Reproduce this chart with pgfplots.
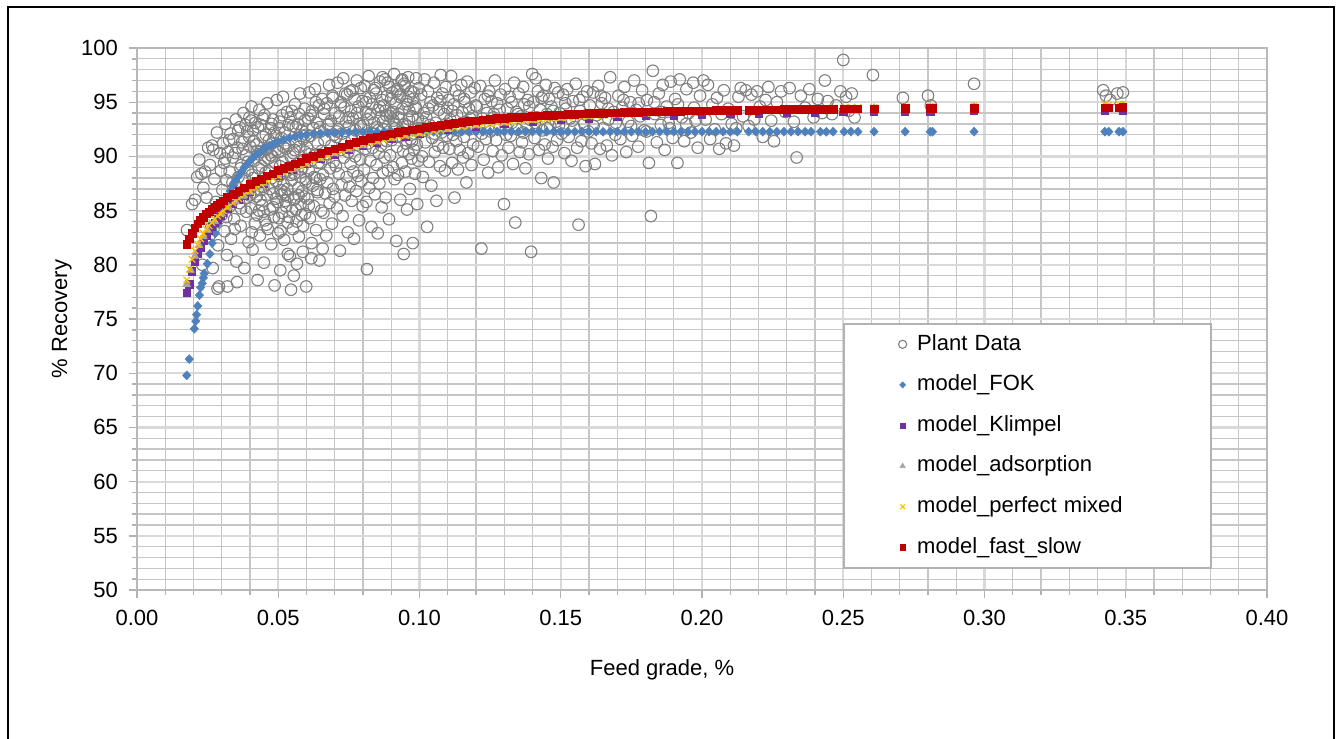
\documentclass[border=0pt]{standalone}
\usepackage{fontspec}
\setmainfont{Liberation Sans}
\usepackage{pgfplots}
\pgfplotsset{compat=1.18}
\definecolor{plantc}{RGB}{128,128,128}
\definecolor{fokc}{RGB}{79,129,189}
\definecolor{klimc}{RGB}{112,48,160}
\definecolor{adsc}{RGB}{165,165,165}
\definecolor{pmc}{RGB}{255,192,0}
\definecolor{fsc}{RGB}{192,0,0}
\definecolor{gridmaj}{RGB}{217,217,217}
\definecolor{gridmin}{RGB}{198,198,198}
\begin{document}
\begin{tikzpicture}[x=1pt,y=1pt]
\useasboundingbox (-68.5,-74) rectangle (599.5,295);
\draw[line width=1.1pt] (-64.5,-80) -- (-64.5,291.5) -- (598.5,291.5) -- (598.5,-80);
\begin{axis}[
 at={(0,0)}, anchor=south west,
 scale only axis, width=565pt, height=271pt,
 xmin=0, xmax=0.4, ymin=50, ymax=100,
 xtick={0,0.05,0.1,0.15,0.2,0.25,0.3,0.35,0.4},
 ytick={50,55,60,65,70,75,80,85,90,95,100},
 minor x tick num=4, minor y tick num=4,
 grid=both,
 major grid style={draw=gridmaj, line width=1.1pt},
 minor grid style={draw=gridmin, line width=0.65pt},
 xminorticks=false,
 tick align=outside, tick pos=left,
 major tick length=4pt, minor tick length=2.5pt,
 tick style={draw=black!30, line width=0.7pt},
 axis line style={draw=black!28, line width=0.8pt},
 font=\fontsize{11}{13}\selectfont,
 ticklabel style={font=\fontsize{11}{13}\selectfont},
 /pgf/number format/assume math mode=true,
 xticklabel style={/pgf/number format/fixed, /pgf/number format/fixed zerofill, /pgf/number format/precision=2, yshift=-2.5pt},
 yticklabel style={xshift=-2pt},
 xlabel={Feed grade, \%}, ylabel={\% Recovery},
 every axis x label/.style={at={(axis description cs:0.4646,-0.1476)}, anchor=center},
 every axis y label/.style={at={(axis description cs:-0.0665,0.5)}, rotate=90, anchor=center},
 legend style={at={(rel axis cs:0.6248,0.4926)}, anchor=north west, draw=black!30, line width=1pt, fill=white, inner xsep=0pt, inner ysep=0pt, font=\fontsize{11}{13}\selectfont,
   nodes={text width=143pt, inner xsep=4pt, inner ysep=0pt, text height=8pt, text depth=2.3pt, minimum height=20.3pt}},
 legend cell align=left,
 legend image code/.code={\path (-29pt,0pt) (3pt,0pt); \draw[#1] plot coordinates {(0pt,0pt)};},
 legend image post style={every mark/.append style={scale=0.7}},
]
% Plant data
\addplot[only marks, mark=o, mark size=2.9pt, draw=plantc, line width=0.55pt] coordinates {
(0.0177,83.2)(0.0195,85.6)(0.0205,86.0)(0.0213,88.1)(0.0220,89.7)(0.0228,88.4)(0.0235,87.1)(0.0241,88.6)(0.0246,86.2)(0.0252,90.8)
(0.0258,89.2)(0.0262,83.4)(0.0266,91.0)(0.0270,90.6)(0.0274,87.9)(0.0279,85.8)(0.0283,92.2)(0.0287,81.8)(0.0290,78.0)(0.0294,90.3)
(0.0297,88.7)(0.0300,84.6)(0.0231,80.0)(0.0255,82.6)(0.0268,79.7)(0.0285,77.8)
(0.0302,86.9)(0.0305,91.2)(0.0308,89.4)(0.0310,83.1)(0.0313,93.0)(0.0316,87.8)(0.0318,80.9)(0.0320,78.0)(0.0322,90.4)(0.0325,85.3)
(0.0328,88.6)(0.0331,92.1)(0.0333,82.4)(0.0336,86.1)(0.0339,89.9)(0.0341,91.6)(0.0344,84.2)(0.0347,87.3)(0.0350,93.4)(0.0352,80.3)
(0.0354,78.4)(0.0356,90.8)(0.0359,88.1)(0.0362,85.7)(0.0364,92.7)(0.0367,83.6)(0.0369,89.2)(0.0372,91.3)(0.0375,86.8)(0.0377,94.0)
(0.0380,79.7)(0.0382,87.9)(0.0385,90.1)(0.0387,84.9)(0.0390,92.3)(0.0393,88.7)(0.0395,82.1)(0.0398,93.6)(0.0399,86.4)
(0.0401,90.9)(0.0403,85.2)(0.0405,94.6)(0.0407,88.3)(0.0409,81.4)(0.0411,92.4)(0.0413,86.7)(0.0415,89.6)(0.0417,83.8)(0.0419,93.1)
(0.0421,87.5)(0.0423,91.1)(0.0425,84.6)(0.0427,78.6)(0.0429,90.2)(0.0431,88.9)(0.0433,94.3)(0.0435,82.7)(0.0437,86.0)(0.0439,92.9)
(0.0441,89.1)(0.0443,85.5)(0.0445,91.8)(0.0447,87.2)(0.0449,80.2)(0.0451,93.8)(0.0453,84.1)(0.0455,88.5)(0.0457,90.6)(0.0459,86.4)
(0.0461,94.9)(0.0463,83.3)(0.0465,89.8)(0.0467,91.5)(0.0469,87.0)(0.0471,85.1)(0.0473,92.6)(0.0475,81.9)(0.0477,88.0)(0.0479,90.0)
(0.0481,93.4)(0.0483,86.6)(0.0485,84.4)(0.0487,78.1)(0.0489,89.4)(0.0491,91.9)(0.0493,87.7)(0.0495,95.2)(0.0497,85.8)(0.0499,82.9)
(0.0501,90.4)(0.0503,88.2)(0.0505,93.2)(0.0507,79.5)(0.0509,86.9)(0.0511,91.7)(0.0513,84.8)(0.0515,89.5)(0.0517,95.5)(0.0519,87.4)
(0.0521,82.3)(0.0523,92.2)(0.0525,85.9)(0.0527,90.7)(0.0529,88.6)(0.0531,94.1)(0.0533,83.9)(0.0535,86.3)(0.0537,91.0)(0.0539,89.0)
(0.0541,80.8)(0.0543,93.6)(0.0545,77.7)(0.0547,87.8)(0.0549,85.0)(0.0551,92.8)(0.0553,90.3)(0.0555,79.0)(0.0557,88.4)(0.0559,94.8)
(0.0561,86.2)(0.0563,91.4)(0.0565,84.0)(0.0567,89.3)(0.0569,93.0)(0.0571,87.1)(0.0573,82.6)(0.0575,90.9)(0.0577,95.8)(0.0579,85.6)
(0.0581,88.8)(0.0583,92.4)(0.0585,86.8)(0.0587,81.2)(0.0589,91.6)(0.0591,89.7)(0.0593,94.4)(0.0595,84.7)(0.0597,87.6)(0.0599,78.0)
(0.0600,92.0)(0.0552,83.3)(0.0534,81.0)(0.0566,80.1)(0.0588,83.6)(0.0512,86.5)(0.0544,90.0)
(0.0602,90.8)(0.0604,86.1)(0.0606,93.5)(0.0608,88.7)(0.0610,95.9)(0.0612,84.3)(0.0614,91.9)(0.0616,89.6)(0.0618,82.0)(0.0620,94.2)
(0.0622,87.3)(0.0624,92.6)(0.0626,85.4)(0.0628,90.1)(0.0630,96.2)(0.0632,88.0)(0.0634,83.2)(0.0636,93.1)(0.0638,86.9)(0.0640,91.2)
(0.0642,89.4)(0.0644,94.7)(0.0646,80.4)(0.0648,87.9)(0.0650,92.3)(0.0652,85.0)(0.0654,90.5)(0.0656,95.3)(0.0658,88.3)(0.0660,84.8)
(0.0662,93.9)(0.0664,91.5)(0.0666,86.6)(0.0668,89.8)(0.0670,82.7)(0.0672,94.9)(0.0674,87.6)(0.0676,92.9)(0.0678,90.2)(0.0680,96.6)
(0.0682,85.7)(0.0684,88.9)(0.0686,93.3)(0.0688,91.0)(0.0690,83.8)(0.0692,95.6)(0.0694,87.0)(0.0696,89.5)(0.0698,92.0)(0.0699,86.3)
(0.0617,80.6)(0.0657,81.5)
(0.0702,94.0)(0.0704,89.1)(0.0706,91.8)(0.0708,85.2)(0.0710,96.8)(0.0712,92.5)(0.0714,88.4)(0.0716,93.7)(0.0718,81.3)(0.0720,90.6)
(0.0722,95.0)(0.0724,87.4)(0.0726,92.1)(0.0728,84.5)(0.0730,97.2)(0.0732,89.9)(0.0734,94.5)(0.0736,86.4)(0.0738,91.3)(0.0740,93.2)
(0.0742,88.1)(0.0744,95.7)(0.0746,83.0)(0.0748,90.4)(0.0750,92.8)(0.0752,87.2)(0.0754,96.0)(0.0756,89.3)(0.0758,94.2)(0.0760,85.9)
(0.0762,91.6)(0.0764,93.5)(0.0766,88.6)(0.0768,82.4)(0.0770,95.3)(0.0772,90.0)(0.0774,92.4)(0.0776,86.8)(0.0778,97.0)(0.0780,91.1)
(0.0782,88.2)(0.0784,94.6)(0.0786,84.1)(0.0788,93.0)(0.0790,89.7)(0.0792,96.3)(0.0794,87.7)(0.0796,91.9)(0.0798,95.1)(0.0799,85.4)
(0.0802,92.9)(0.0804,88.8)(0.0806,96.5)(0.0808,90.7)(0.0810,94.1)(0.0812,85.8)(0.0814,79.6)(0.0816,93.4)(0.0818,91.2)(0.0820,97.4)
(0.0822,87.1)(0.0824,95.4)(0.0826,89.6)(0.0828,92.2)(0.0830,83.5)(0.0832,94.8)(0.0834,90.8)(0.0836,88.0)(0.0838,96.1)(0.0840,93.1)
(0.0842,86.5)(0.0844,91.7)(0.0846,95.8)(0.0848,89.2)(0.0850,92.7)(0.0852,82.9)(0.0854,94.3)(0.0856,90.3)(0.0858,87.5)(0.0860,96.9)
(0.0862,93.6)(0.0864,91.0)(0.0866,85.3)(0.0868,95.2)(0.0870,88.5)(0.0872,92.5)(0.0874,94.7)(0.0876,89.9)(0.0878,97.1)(0.0880,86.2)
(0.0882,93.8)(0.0884,91.4)(0.0886,95.6)(0.0888,88.7)(0.0890,92.0)(0.0892,84.2)(0.0894,96.4)(0.0896,90.1)(0.0898,94.0)
(0.0902,91.5)(0.0904,95.9)(0.0906,89.0)(0.0908,93.3)(0.0910,97.6)(0.0912,87.9)(0.0914,92.6)(0.0916,94.9)(0.0918,82.2)(0.0920,90.9)
(0.0922,96.2)(0.0924,88.3)(0.0926,93.9)(0.0928,91.8)(0.0930,95.5)(0.0932,86.0)(0.0934,92.3)(0.0936,97.0)(0.0938,89.4)(0.0940,94.4)
(0.0942,90.5)(0.0944,81.0)(0.0946,96.7)(0.0948,93.0)(0.0950,88.6)(0.0952,91.2)(0.0954,95.1)(0.0956,85.1)(0.0958,92.8)(0.0960,97.3)
(0.0962,90.2)(0.0964,94.2)(0.0966,87.0)(0.0968,91.6)(0.0970,96.0)(0.0972,89.8)(0.0974,93.7)(0.0976,82.0)(0.0978,95.3)(0.0980,90.6)
(0.0982,92.1)(0.0984,88.4)(0.0986,94.6)(0.0988,97.2)(0.0990,91.1)(0.0992,85.6)(0.0994,93.5)(0.0996,89.6)(0.0998,96.3)
(0.0811,95.0)(0.0827,93.9)(0.0843,96.3)(0.0859,94.6)(0.0871,93.2)(0.0887,96.8)(0.0899,95.3)(0.0907,94.1)(0.0919,96.0)(0.0925,93.6)
(0.0933,95.7)(0.0941,92.9)(0.0949,96.5)(0.0957,94.8)(0.0963,93.4)(0.0979,95.9)(0.0987,94.4)(0.0995,92.6)(0.0853,92.4)(0.0879,94.2)
(0.0915,93.0)(0.0939,97.1)(0.0961,95.5)(0.0973,91.4)(0.0869,97.3)(0.0895,93.7)
(0.0412,88.0)(0.0426,90.5)(0.0438,86.9)(0.0452,89.7)(0.0466,88.6)(0.0478,91.2)(0.0492,86.1)(0.0506,89.1)(0.0518,90.9)(0.0532,87.0)
(0.0546,88.3)(0.0558,90.6)(0.0572,86.4)(0.0586,89.0)(0.0598,87.9)(0.0611,90.2)(0.0627,88.1)(0.0639,86.7)(0.0651,89.4)(0.0424,86.3)
(0.0448,84.9)(0.0474,90.1)(0.0502,84.3)(0.0528,85.4)(0.0556,86.0)(0.0582,84.6)(0.0608,85.5)
(0.0615,93.8)(0.0633,95.0)(0.0647,92.7)(0.0663,94.4)(0.0679,93.0)(0.0693,95.4)(0.0707,92.3)(0.0721,94.7)(0.0737,95.8)(0.0749,93.6)
(0.0763,96.1)(0.0779,94.0)(0.0793,92.8)
(0.0312,89.8)(0.0326,91.5)(0.0338,87.6)(0.0348,90.3)(0.0358,92.4)(0.0366,88.9)(0.0374,90.7)(0.0384,92.9)(0.0392,89.5)(0.0397,91.8)
(0.0404,93.3)(0.0414,91.4)(0.0428,92.7)(0.0436,90.4)(0.0446,93.5)(0.0456,92.0)(0.0464,90.8)(0.0476,93.0)(0.0486,92.2)(0.0494,90.6)
(0.0504,92.6)(0.0514,93.8)(0.0524,91.2)(0.0536,92.9)(0.0548,94.2)(0.0562,92.7)(0.0574,93.9)(0.0584,91.9)(0.0594,93.3)(0.0596,90.4)
(0.0316,84.4)(0.0334,85.9)(0.0346,83.3)(0.0368,85.2)(0.0388,86.2)(0.0406,83.0)(0.0432,85.0)(0.0458,83.7)(0.0482,85.3)(0.0508,83.1)
(0.0522,86.7)(0.0538,84.4)(0.0562,85.1)(0.0578,88.1)(0.0592,86.3)
(0.1003,92.4)(0.1006,95.7)(0.1009,90.0)(0.1012,88.1)(0.1015,94.0)(0.1018,97.1)(0.1021,91.3)(0.1024,93.6)(0.1027,83.5)(0.1030,96.0)
(0.1033,89.5)(0.1036,92.9)(0.1039,95.0)(0.1042,87.3)(0.1045,91.7)(0.1048,94.7)(0.1051,96.8)(0.1054,90.4)(0.1057,93.1)(0.1060,85.9)
(0.1063,95.4)(0.1066,91.0)(0.1069,94.3)(0.1072,89.1)(0.1075,97.5)(0.1078,92.2)(0.1081,95.8)(0.1084,90.8)(0.1087,93.9)(0.1090,88.7)
(0.1093,96.4)(0.1096,91.9)(0.1099,94.5)
(0.1103,95.2)(0.1106,90.7)(0.1109,93.4)(0.1112,97.4)(0.1115,89.4)(0.1118,92.0)(0.1121,94.8)(0.1124,86.2)(0.1127,96.1)(0.1130,91.4)
(0.1133,93.8)(0.1136,88.8)(0.1139,95.6)(0.1142,90.6)(0.1145,92.7)(0.1148,96.6)(0.1151,94.1)(0.1154,89.9)(0.1157,91.8)(0.1160,95.0)
(0.1163,93.2)(0.1166,87.6)(0.1169,96.9)(0.1172,90.3)(0.1175,94.4)(0.1178,92.5)(0.1181,95.9)(0.1184,89.2)(0.1187,93.7)(0.1190,91.1)
(0.1195,96.3)
(0.1203,94.6)(0.1207,90.9)(0.1211,92.8)(0.1215,96.5)(0.1219,81.5)(0.1223,93.5)(0.1227,89.7)(0.1231,95.3)(0.1235,91.6)(0.1239,94.0)
(0.1243,88.5)(0.1247,96.0)(0.1251,92.3)(0.1255,95.1)(0.1259,90.5)(0.1263,93.9)(0.1267,97.0)(0.1271,91.5)(0.1275,94.9)(0.1279,89.0)
(0.1283,92.6)(0.1287,95.7)(0.1291,90.1)(0.1295,93.3)(0.1299,85.6)
(0.1303,96.2)(0.1307,92.0)(0.1311,94.4)(0.1315,90.8)(0.1319,95.5)(0.1323,91.9)(0.1327,93.1)(0.1331,89.3)(0.1335,96.8)(0.1339,83.9)
(0.1343,94.1)(0.1347,92.5)(0.1351,95.8)(0.1355,90.4)(0.1359,93.7)(0.1363,91.3)(0.1367,96.4)(0.1371,94.8)(0.1375,88.9)(0.1379,92.9)
(0.1383,95.2)(0.1387,90.2)(0.1391,93.4)(0.1395,81.2)(0.1399,97.6)
(0.1403,95.0)(0.1407,91.7)(0.1411,97.2)(0.1415,93.6)(0.1419,96.0)(0.1423,90.6)(0.1427,94.3)(0.1431,88.0)(0.1435,92.4)(0.1439,95.6)
(0.1443,91.1)(0.1447,96.6)(0.1451,93.9)(0.1455,89.8)(0.1459,95.3)(0.1463,92.8)(0.1467,94.6)(0.1471,90.9)(0.1475,87.6)(0.1479,96.3)
(0.1483,93.2)(0.1487,91.5)(0.1491,95.9)(0.1495,94.0)
(0.1503,92.1)(0.1508,95.7)(0.1513,90.3)(0.1518,94.4)(0.1523,96.2)(0.1528,91.8)(0.1533,93.5)(0.1538,89.6)(0.1543,95.1)(0.1548,92.7)
(0.1553,96.7)(0.1558,90.8)(0.1563,83.7)(0.1568,94.2)(0.1573,91.4)(0.1578,95.5)(0.1583,93.0)(0.1588,89.1)(0.1593,96.0)(0.1598,92.3)
(0.1603,94.7)(0.1609,91.2)(0.1615,95.9)(0.1621,89.3)(0.1627,93.8)(0.1633,96.5)(0.1639,90.7)(0.1645,94.9)(0.1651,92.6)(0.1657,95.4)
(0.1663,91.0)(0.1669,93.4)(0.1675,97.3)(0.1681,90.1)(0.1687,94.1)(0.1693,92.0)
(0.1704,95.6)(0.1711,91.6)(0.1718,94.5)(0.1725,96.4)(0.1732,90.4)(0.1739,93.2)(0.1746,95.0)(0.1753,91.9)(0.1760,97.0)(0.1767,94.3)
(0.1774,90.9)(0.1781,93.7)(0.1788,96.1)(0.1795,92.4)
(0.1805,95.2)(0.1812,89.4)(0.1819,84.5)(0.1826,97.9)(0.1833,93.9)(0.1840,91.3)(0.1847,95.8)(0.1854,92.9)(0.1861,96.6)(0.1868,90.6)
(0.1875,94.6)(0.1882,93.1)(0.1889,96.9)(0.1896,91.7)
(0.1905,95.3)(0.1913,89.4)(0.1921,97.1)(0.1929,93.6)(0.1937,91.4)(0.1945,96.2)(0.1953,94.0)(0.1961,92.2)(0.1969,96.8)(0.1977,93.3)
(0.1985,90.8)(0.1993,95.6)
(0.1011,93.2)(0.1032,94.4)(0.1053,92.1)(0.1074,95.1)(0.1095,93.0)(0.1116,94.2)(0.1137,92.4)(0.1158,95.3)(0.1179,93.5)(0.1199,94.7)
(0.1221,92.1)(0.1242,95.6)(0.1262,93.6)(0.1284,94.3)(0.1305,92.7)(0.1326,95.0)(0.1349,93.9)(0.1368,92.2)(0.1389,94.6)(0.1409,93.1)
(0.1432,95.4)(0.1452,92.6)(0.1473,94.2)(0.1494,92.9)(0.1516,94.9)(0.1541,93.3)(0.1566,95.2)(0.1591,93.8)(0.1616,92.8)(0.1642,95.6)
(0.1668,94.4)(0.1695,93.1)(0.1722,95.2)(0.1749,92.8)(0.1776,94.9)(0.1803,92.3)(0.1831,95.0)(0.1858,94.1)(0.1886,92.6)(0.1915,94.8)
(0.1944,93.0)(0.1972,94.5)
(0.2005,97.0)(0.2013,93.4)(0.2021,96.6)(0.2029,91.6)(0.2037,94.8)(0.2045,92.5)(0.2053,95.4)(0.2061,90.7)(0.2069,93.9)(0.2077,96.1)
(0.2085,91.2)(0.2093,94.4)
(0.2105,93.0)(0.2113,91.0)(0.2121,92.6)(0.2129,95.5)(0.2137,96.3)(0.2145,93.7)(0.2155,96.1)(0.2165,92.8)(0.2175,95.7)(0.2185,93.4)
(0.2195,96.0)(0.2205,94.6)(0.2215,91.8)(0.2225,95.2)(0.2235,96.4)(0.2245,93.3)(0.2255,91.4)(0.2265,95.0)(0.2280,96.0)(0.2295,94.1)
(0.2310,96.3)(0.2325,93.2)(0.2335,89.9)(0.2350,95.6)(0.2365,94.5)(0.2380,96.2)(0.2395,93.6)(0.2410,95.3)(0.2425,94.0)(0.2435,97.0)
(0.2445,95.1)(0.2460,93.9)(0.2475,94.7)(0.2490,96.0)(0.2500,98.9)(0.2510,95.5)(0.2520,94.2)(0.2530,95.8)(0.2540,93.6)(0.2605,97.5)
(0.2711,95.4)(0.2800,95.6)(0.2810,94.7)(0.2963,96.7)(0.3420,96.1)(0.3430,95.6)(0.3445,95.2)(0.3470,95.8)(0.3490,95.9)
};
\addlegendentry{Plant Data}
% model FOK
\addplot[only marks, mark=diamond*, mark size=2.2pt, color=fokc, line width=0.3pt, mark options={xscale=1.25}] coordinates {
(0.0176,69.8)(0.0185,71.3)(0.0203,74.1)(0.0208,74.8)(0.0211,75.4)(0.0215,76.2)(0.0221,77.2)(0.0225,77.9)(0.0231,78.3)(0.0235,78.8)
(0.0238,79.2)(0.0249,80.1)(0.0258,81.0)(0.0266,82.0)(0.0277,82.9)(0.0288,83.8)(0.0298,84.6)(0.0308,85.3)(0.0320,86.2)(0.0330,86.8)
(0.0340,87.3)(0.0350,87.8)(0.0360,88.2)(0.0370,88.6)(0.0380,89.0)(0.0390,89.3)(0.0400,89.6)(0.0410,89.85)(0.0420,90.1)(0.0430,90.3)
(0.0440,90.5)(0.0450,90.7)(0.0460,90.85)(0.0470,91.0)(0.0480,91.1)(0.0490,91.25)(0.0500,91.35)(0.0520,91.55)(0.0540,91.7)(0.0560,91.82)
(0.0580,91.92)(0.0600,92.0)(0.0625,92.07)(0.0650,92.12)(0.0675,92.16)(0.0700,92.19)(0.0725,92.21)(0.0750,92.23)(0.0775,92.24)(0.0800,92.25)
(0.0825,92.26)(0.0850,92.26)(0.0875,92.27)(0.0900,92.27)(0.0925,92.27)(0.0950,92.28)(0.0975,92.27)(0.1000,92.28)(0.1025,92.28)(0.1050,92.27)
(0.1075,92.28)(0.1100,92.28)(0.1125,92.29)(0.1150,92.28)(0.1175,92.28)(0.1200,92.27)(0.1225,92.28)(0.1250,92.28)(0.1275,92.29)(0.1300,92.28)
(0.1325,92.28)(0.1350,92.27)(0.1375,92.28)(0.1400,92.28)(0.1425,92.29)(0.1450,92.28)(0.1475,92.28)(0.1500,92.27)(0.1525,92.28)(0.1550,92.28)
(0.1575,92.29)(0.1600,92.28)(0.1625,92.28)(0.1650,92.27)(0.1675,92.28)(0.1700,92.28)(0.1725,92.29)(0.1750,92.28)(0.1775,92.28)(0.1800,92.27)
(0.1825,92.28)(0.1850,92.28)(0.1875,92.29)(0.1900,92.28)(0.1925,92.28)(0.1950,92.27)(0.1975,92.28)(0.2000,92.28)(0.2025,92.29)(0.2050,92.28)
(0.2075,92.28)(0.2100,92.27)(0.2125,92.28)(0.2165,92.28)(0.2190,92.29)(0.2215,92.28)(0.2240,92.28)(0.2265,92.27)(0.2290,92.28)(0.2315,92.28)
(0.2340,92.29)(0.2365,92.28)(0.2386,92.28)(0.2419,92.28)(0.2440,92.27)(0.2464,92.28)(0.2503,92.28)(0.2527,92.29)(0.2552,92.28)(0.2609,92.28)
(0.2719,92.28)(0.2808,92.28)(0.2816,92.28)(0.2963,92.28)(0.3426,92.28)(0.3440,92.28)(0.3476,92.28)(0.3490,92.28)
};
\addlegendentry{model\_FOK}
% model Klimpel
\addplot[only marks, mark=square*, mark size=1.8pt, color=klimc, line width=0.3pt] coordinates {
(0.0176,77.4)(0.0185,78.2)(0.0195,79.4)(0.0205,80.3)(0.0215,81.0)(0.0225,81.6)(0.0235,82.2)(0.0245,82.7)(0.0255,83.1)(0.0265,83.5)
(0.0275,83.9)(0.0285,84.2)(0.0295,84.5)(0.0305,84.8)(0.0320,85.2)(0.0340,85.6)(0.0360,86.0)(0.0380,86.4)(0.0400,86.7)(0.0450,87.5)
(0.0500,88.2)(0.0550,88.8)(0.0600,89.3)(0.0650,89.8)(0.0700,90.2)(0.0750,90.6)(0.0800,91.0)(0.0850,91.3)(0.0900,91.6)(0.0950,91.85)
(0.1000,92.05)(0.1100,92.45)(0.1200,92.75)(0.1300,93.0)(0.1400,93.2)(0.1500,93.37)(0.1600,93.5)(0.1700,93.62)(0.1800,93.72)(0.1900,93.8)
(0.2000,93.87)(0.2100,93.93)(0.2200,93.98)(0.2300,94.02)(0.2400,94.06)(0.2500,94.09)(0.2609,94.12)(0.2719,94.14)(0.2808,94.16)(0.2963,94.19)
(0.3426,94.25)(0.3490,94.26)
};
\addlegendentry{model\_Klimpel}
% model adsorption
\addplot[only marks, mark=triangle*, mark size=2.2pt, color=adsc, line width=0.3pt] coordinates {
(0.0176,78.2)(0.0190,79.5)(0.0205,80.8)(0.0220,81.8)(0.0235,82.6)(0.0250,83.2)(0.0275,84.0)(0.0300,84.7)(0.0325,85.3)(0.0350,85.8)
(0.0375,86.3)(0.0400,86.7)(0.0450,87.5)(0.0500,88.2)(0.0550,88.8)(0.0600,89.3)(0.0650,89.8)(0.0700,90.25)(0.0750,90.65)(0.0800,91.0)
(0.0850,91.35)(0.0900,91.65)(0.0950,91.9)(0.1000,92.1)(0.1100,92.5)(0.1200,92.85)(0.1300,93.1)(0.1400,93.33)(0.1500,93.52)(0.1600,93.68)
(0.1700,93.82)(0.1800,93.94)(0.1900,94.04)(0.2000,94.13)(0.2100,94.2)(0.2200,94.27)(0.2300,94.33)(0.2400,94.38)(0.2500,94.43)(0.2609,94.47)
(0.2719,94.51)(0.2808,94.54)(0.2963,94.59)(0.3426,94.7)(0.3490,94.72)
};
\addlegendentry{model\_adsorption}
% model perfect mixed
\addplot[only marks, mark=x, mark size=2.3pt, color=pmc, line width=0.6pt] coordinates {
(0.0176,78.6)(0.0185,79.6)(0.0195,80.5)(0.0205,81.3)(0.0215,81.9)(0.0225,82.4)(0.0235,82.9)(0.0245,83.3)(0.0255,83.6)(0.0265,83.9)
(0.0275,84.2)(0.0285,84.5)(0.0295,84.7)(0.0305,85.0)(0.0320,85.3)(0.0340,85.7)(0.0360,86.1)(0.0380,86.5)(0.0400,86.8)(0.0420,87.1)
(0.0440,87.4)(0.0460,87.7)(0.0480,88.0)(0.0500,88.2)(0.0520,88.5)(0.0540,88.7)(0.0560,88.9)(0.0580,89.1)(0.0600,89.3)(0.0625,89.6)
(0.0650,89.85)(0.0675,90.1)(0.0700,90.3)(0.0725,90.5)(0.0750,90.7)(0.0775,90.9)(0.0800,91.1)(0.0825,91.25)(0.0850,91.4)(0.0875,91.55)
(0.0900,91.7)(0.0925,91.82)(0.0950,91.94)(0.0975,92.05)(0.1000,92.15)(0.1025,92.25)(0.1050,92.35)(0.1075,92.45)(0.1100,92.55)(0.1125,92.64)
(0.1150,92.73)(0.1175,92.82)(0.1200,92.9)(0.1225,92.96)(0.1250,93.02)(0.1275,93.08)(0.1300,93.15)(0.1325,93.21)(0.1350,93.27)(0.1375,93.33)
(0.1400,93.38)(0.1425,93.43)(0.1450,93.47)(0.1475,93.52)(0.1500,93.56)(0.1525,93.6)(0.1550,93.64)(0.1575,93.68)(0.1600,93.72)(0.1625,93.76)
(0.1650,93.79)(0.1675,93.83)(0.1700,93.86)(0.1725,93.89)(0.1750,93.92)(0.1775,93.95)(0.1800,93.98)(0.1825,94.0)(0.1850,94.03)(0.1875,94.05)
(0.1900,94.08)(0.1925,94.1)(0.1950,94.12)(0.1975,94.15)(0.2000,94.17)(0.2025,94.19)(0.2050,94.21)(0.2075,94.23)(0.2100,94.25)(0.2125,94.27)
(0.2165,94.3)(0.2190,94.31)(0.2215,94.33)(0.2240,94.34)(0.2265,94.36)(0.2290,94.37)(0.2315,94.38)(0.2340,94.4)(0.2365,94.41)(0.2386,94.42)
(0.2419,94.44)(0.2440,94.45)(0.2464,94.47)(0.2503,94.49)(0.2527,94.5)(0.2552,94.51)(0.2609,94.54)(0.2719,94.58)(0.2808,94.62)(0.2816,94.62)
(0.2963,94.67)(0.3426,94.8)(0.3440,94.8)(0.3476,94.81)(0.3490,94.82)
};
\addlegendentry{model\_perfect mixed}
% model fast slow
\addplot[only marks, mark=square*, mark size=1.9pt, color=fsc, line width=0.3pt] coordinates {
(0.0176,81.9)(0.0185,82.4)(0.0195,82.9)(0.0205,83.4)(0.0215,83.8)(0.0225,84.1)(0.0235,84.4)(0.0245,84.7)(0.0255,84.9)(0.0265,85.1)
(0.0275,85.3)(0.0285,85.5)(0.0295,85.7)(0.0305,85.9)(0.0320,86.2)(0.0340,86.5)(0.0360,86.8)(0.0380,87.1)(0.0400,87.4)(0.0420,87.7)
(0.0440,87.9)(0.0460,88.2)(0.0480,88.4)(0.0500,88.7)(0.0520,88.9)(0.0540,89.1)(0.0560,89.3)(0.0580,89.5)(0.0600,89.8)(0.0625,90.0)
(0.0650,90.3)(0.0675,90.5)(0.0700,90.7)(0.0725,90.9)(0.0750,91.1)(0.0775,91.3)(0.0800,91.5)(0.0825,91.65)(0.0850,91.8)(0.0875,91.95)
(0.0900,92.1)(0.0925,92.2)(0.0950,92.35)(0.0975,92.45)(0.1000,92.55)(0.1025,92.67)(0.1050,92.78)(0.1075,92.88)(0.1100,92.98)(0.1125,93.07)
(0.1150,93.15)(0.1175,93.23)(0.1200,93.3)(0.1225,93.37)(0.1250,93.43)(0.1275,93.49)(0.1300,93.54)(0.1325,93.59)(0.1350,93.63)(0.1375,93.67)
(0.1400,93.71)(0.1425,93.75)(0.1450,93.78)(0.1475,93.81)(0.1500,93.84)(0.1525,93.87)(0.1550,93.9)(0.1575,93.92)(0.1600,93.95)(0.1625,93.97)
(0.1650,93.99)(0.1675,94.01)(0.1700,94.03)(0.1725,94.05)(0.1750,94.07)(0.1775,94.09)(0.1800,94.1)(0.1825,94.12)(0.1850,94.13)(0.1875,94.15)
(0.1900,94.16)(0.1925,94.18)(0.1950,94.19)(0.1975,94.2)(0.2000,94.21)(0.2025,94.22)(0.2050,94.23)(0.2075,94.24)(0.2100,94.25)(0.2125,94.26)
(0.2165,94.27)(0.2190,94.28)(0.2215,94.29)(0.2240,94.3)(0.2265,94.31)(0.2290,94.32)(0.2315,94.32)(0.2340,94.33)(0.2365,94.34)(0.2386,94.35)
(0.2419,94.36)(0.2440,94.36)(0.2464,94.37)(0.2503,94.38)(0.2527,94.38)(0.2552,94.39)(0.2609,94.4)(0.2719,94.42)(0.2808,94.43)(0.2816,94.43)
(0.2963,94.45)(0.3426,94.5)(0.3440,94.5)(0.3476,94.5)(0.3490,94.51)
};
\addlegendentry{model\_fast\_slow}
\end{axis}
\end{tikzpicture}
\end{document}
